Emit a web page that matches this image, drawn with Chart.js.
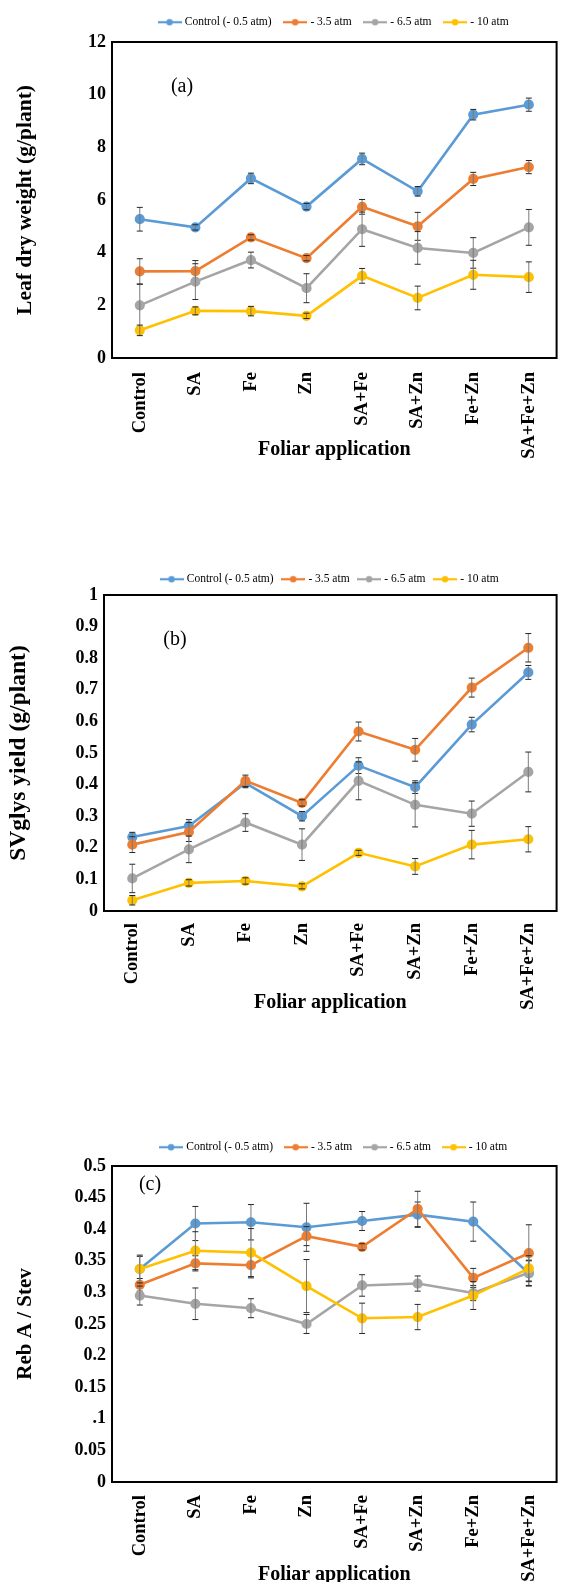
<!DOCTYPE html>
<html>
<head>
<meta charset="utf-8">
<script src="https://cdn.jsdelivr.net/npm/chart.js@4/dist/chart.umd.min.js"></script>
<style>
html,body{margin:0;padding:0;background:#fff;width:563px;height:1582px;overflow:hidden;}
canvas{position:absolute;left:0;}
</style>
</head>
<body>
<canvas id="ca" width="563" height="470" style="top:0px"></canvas>
<canvas id="cb" width="563" height="470" style="top:560px"></canvas>
<canvas id="cc" width="563" height="457" style="top:1125px"></canvas>
<script>
// ---- shared ----
const categories = ['Control','SA','Fe','Zn','SA+Fe','SA+Zn','Fe+Zn','SA+Fe+Zn'];
const seriesNames = ['Control (- 0.5 atm)','- 3.5 atm','- 6.5 atm','- 10 atm'];
const seriesColors = ['#5B9BD5','#ED7D31','#A5A5A5','#FFC000'];

// ---- (a) Leaf dry weight ----
const leafControl = [5.27, 4.96, 6.82, 5.75, 7.56, 6.33, 9.24, 9.62];
const leaf35      = [3.29, 3.30, 4.58, 3.79, 5.74, 5.00, 6.80, 7.25];
const leaf65      = [2.00, 2.90, 3.72, 2.65, 4.89, 4.18, 3.99, 4.96];
const leaf10      = [1.05, 1.79, 1.78, 1.60, 3.12, 2.28, 3.16, 3.07];
const leafErrControl = [0.45, 0.10, 0.20, 0.12, 0.22, 0.18, 0.20, 0.25];
const leafErr35      = [0.48, 0.40, 0.10, 0.10, 0.28, 0.53, 0.25, 0.25];
const leafErr65      = [0.80, 0.68, 0.30, 0.55, 0.65, 0.62, 0.58, 0.68];
const leafErr10      = [0.20, 0.15, 0.18, 0.10, 0.28, 0.45, 0.55, 0.58];
const leafTicks = ['0','2','4','6','8','10','12'];

// ---- (b) SVglys yield ----
const svgControl = [0.234, 0.269, 0.405, 0.300, 0.460, 0.392, 0.590, 0.755];
const svg35      = [0.210, 0.250, 0.412, 0.342, 0.568, 0.510, 0.707, 0.833];
const svg65      = [0.103, 0.195, 0.280, 0.210, 0.412, 0.336, 0.308, 0.440];
const svg10      = [0.034, 0.089, 0.095, 0.078, 0.184, 0.141, 0.210, 0.227];
const svgErrControl = [0.015, 0.020, 0.015, 0.015, 0.025, 0.020, 0.023, 0.022];
const svgErr35      = [0.025, 0.030, 0.018, 0.010, 0.030, 0.036, 0.030, 0.045];
const svgErr65      = [0.045, 0.042, 0.028, 0.050, 0.060, 0.070, 0.040, 0.063];
const svgErr10      = [0.015, 0.010, 0.010, 0.008, 0.008, 0.025, 0.045, 0.040];
const svgTicks = ['0','0.1','0.2','0.3','0.4','0.5','0.6','0.7','0.8','0.9','1'];

// ---- (c) Reb A / Stev ----
const rebControl = [0.337, 0.409, 0.411, 0.403, 0.413, 0.423, 0.412, 0.330];
const reb35      = [0.312, 0.346, 0.343, 0.389, 0.372, 0.432, 0.323, 0.362];
const reb65      = [0.295, 0.282, 0.275, 0.250, 0.311, 0.314, 0.299, 0.331];
const reb10      = [0.337, 0.366, 0.363, 0.310, 0.259, 0.261, 0.295, 0.338];
const rebErrControl = [0.020, 0.027, 0.028, 0.038, 0.015, 0.020, 0.031, 0.020];
const rebErr35      = [0.010, 0.012, 0.020, 0.015, 0.005, 0.028, 0.015, 0.045];
const rebErr65      = [0.015, 0.025, 0.015, 0.015, 0.017, 0.012, 0.012, 0.020];
const rebErr10      = [0.022, 0.030, 0.038, 0.042, 0.024, 0.020, 0.022, 0.020];
const rebTicks = ['0','0.05','.1','0.15','0.2','0.25','0.3','0.35','0.4','0.45','0.5'];

const SERIF = '"Liberation Serif","Times New Roman",serif';

function legendMarker(color){
  const c = document.createElement('canvas');
  c.width = 24; c.height = 10;
  const g = c.getContext('2d');
  g.strokeStyle = color; g.lineWidth = 2.2;
  g.beginPath(); g.moveTo(0,5); g.lineTo(24,5); g.stroke();
  g.fillStyle = color;
  g.beginPath(); g.arc(12,5,3.2,0,Math.PI*2); g.fill();
  return c;
}
const markers = seriesColors.map(legendMarker);

const errorBarPlugin = {
  id: 'errorBars',
  afterDatasetDraw(chart, args) {
    const ds = chart.data.datasets[args.index];
    if (!ds.errors) return;
    const meta = args.meta;
    const y = chart.scales.y;
    const ctx = chart.ctx;
    ctx.save();
    ctx.lineWidth = 1;
    meta.data.forEach((pt, i) => {
      const v = ds.data[i], e = ds.errors[i];
      const yt = y.getPixelForValue(v + e), yb = y.getPixelForValue(v - e);
      const x = pt.x;
      ctx.strokeStyle = '#7a7a7a';
      ctx.beginPath(); ctx.moveTo(x, yt); ctx.lineTo(x, yb); ctx.stroke();
      ctx.strokeStyle = '#262626';
      ctx.beginPath();
      ctx.moveTo(x-3, yt); ctx.lineTo(x+3, yt);
      ctx.moveTo(x-3, yb); ctx.lineTo(x+3, yb);
      ctx.stroke();
    });
    ctx.restore();
  }
};

const framePlugin = {
  id: 'frame',
  beforeLayout(chart, args, opts) {
    const lg = chart.legend;
    if (lg && !lg._patched) {
      const f = lg.fit;
      lg.fit = function() { f.call(this); this.height += (opts.extra || 0); };
      lg._patched = true;
    }
  },
  afterDraw(chart, args, opts) {
    const {ctx, chartArea: a} = chart;
    ctx.save();
    ctx.strokeStyle = '#000'; ctx.lineWidth = 2;
    ctx.strokeRect(a.left, a.top, a.right - a.left, a.bottom - a.top);
    if (opts.text) {
      ctx.fillStyle = '#000';
      ctx.font = '20px ' + SERIF;
      ctx.textAlign = 'center'; ctx.textBaseline = 'middle';
      ctx.fillText(opts.text, opts.x, opts.y);
    }
    ctx.restore();
  }
};

function makeChart(id, cfg) {
  const datasets = cfg.series.map((d, k) => ({
    label: seriesNames[k],
    data: d,
    errors: cfg.errors[k],
    borderColor: seriesColors[k],
    backgroundColor: seriesColors[k],
    pointBackgroundColor: seriesColors[k],
    pointBorderColor: seriesColors[k],
    borderWidth: 2.6,
    pointRadius: 3.8,
    pointHoverRadius: 3.8,
    tension: 0,
    order: 4 - k
  }));
  return new Chart(document.getElementById(id), {
    type: 'line',
    data: { labels: categories, datasets },
    plugins: [errorBarPlugin, framePlugin],
    options: {
      responsive: false,
      animation: false,
      devicePixelRatio: 1,
      layout: { padding: { top: cfg.padTop, right: cfg.padRight, left: 0, bottom: 0 } },
      plugins: {
        tooltip: { enabled: false },
        frame: { text: cfg.tag, x: cfg.tagX, y: cfg.tagY, extra: cfg.legendExtra },
        legend: {
          position: 'top',
          fullSize: false,
          align: 'center',
          labels: {
            usePointStyle: true,
            pointStyleWidth: 19,
            padding: cfg.legendPad,
            color: '#000',
            font: { family: SERIF, size: 11.5 },
            generateLabels(chart) {
              return chart.data.datasets.map((ds, i) => ({
                text: ds.label,
                fillStyle: ds.borderColor,
                strokeStyle: ds.borderColor,
                lineWidth: 0,
                pointStyle: markers[i],
                hidden: false,
                datasetIndex: i,
                fontColor: '#000'
              }));
            }
          }
        }
      },
      scales: {
        x: {
          offset: true,
          grid: { display: false, drawTicks: false },
          border: { display: false },
          ticks: {
            autoSkip: false, minRotation: 90, maxRotation: 90,
            padding: cfg.xTickPad, color: '#000',
            font: { family: SERIF, size: 18.5, weight: 'bold' }
          },
          title: {
            display: true, text: 'Foliar application', color: '#000',
            font: { family: SERIF, size: 20, weight: 'bold' },
            padding: { top: 0, bottom: cfg.xTitlePad }
          },
          afterFit(s) { s.height = cfg.xHeight; s.paddingLeft = 0; s.paddingRight = 0; }
        },
        y: {
          min: cfg.min, max: cfg.max,
          grid: { display: false, drawTicks: false },
          border: { display: false },
          ticks: {
            stepSize: cfg.step, padding: 6, color: '#000',
            font: { family: SERIF, size: 18, weight: 'bold' },
            callback: (v, i) => cfg.ticks[i]
          },
          title: {
            display: true, text: cfg.yTitle, color: '#000',
            font: { family: SERIF, size: cfg.yTitleSize, weight: 'bold' },
            padding: { top: cfg.yTitlePad, bottom: 0 }
          },
          afterFit(s) { s.width = cfg.yWidth; }
        }
      }
    }
  });
}

makeChart('ca', {
  series: [leafControl, leaf35, leaf65, leaf10],
  errors: [leafErrControl, leafErr35, leafErr65, leafErr10],
  ticks: leafTicks, min: 0, max: 12, step: 2,
  yTitle: 'Leaf dry weight (g/plant)', yTitleSize: 21.5,
  padTop: 2.5, padRight: -4.5, legendPad: 14, legendExtra: 4,
  yWidth: 112, yTitlePad: 13,
  xHeight: 112, xTickPad: 14, xTitlePad: 8,
  tag: '(a)', tagX: 182, tagY: 87
});

makeChart('cb', {
  series: [svgControl, svg35, svg65, svg10],
  errors: [svgErrControl, svgErr35, svgErr65, svgErr10],
  ticks: svgTicks, min: 0, max: 1, step: 0.1,
  yTitle: 'SVglys yield (g/plant)', yTitleSize: 23.5,
  padTop: 3.5, padRight: -2.5, legendPad: 10, legendExtra: 0,
  yWidth: 104, yTitlePad: 5,
  xHeight: 119, xTickPad: 12, xTitlePad: 15,
  tag: '(b)', tagX: 175, tagY: 80
});

makeChart('cc', {
  series: [rebControl, reb35, reb65, reb10],
  errors: [rebErrControl, rebErr35, rebErr65, rebErr10],
  ticks: rebTicks, min: 0, max: 0.5, step: 0.05,
  yTitle: 'Reb A / Stev', yTitleSize: 21,
  padTop: 3.5, padRight: -5, legendPad: 13, legendExtra: 3,
  yWidth: 112, yTitlePad: 13,
  xHeight: 100, xTickPad: 13, xTitlePad: -5,
  tag: '(c)', tagX: 150, tagY: 59.5
});
</script>
</body>
</html>
